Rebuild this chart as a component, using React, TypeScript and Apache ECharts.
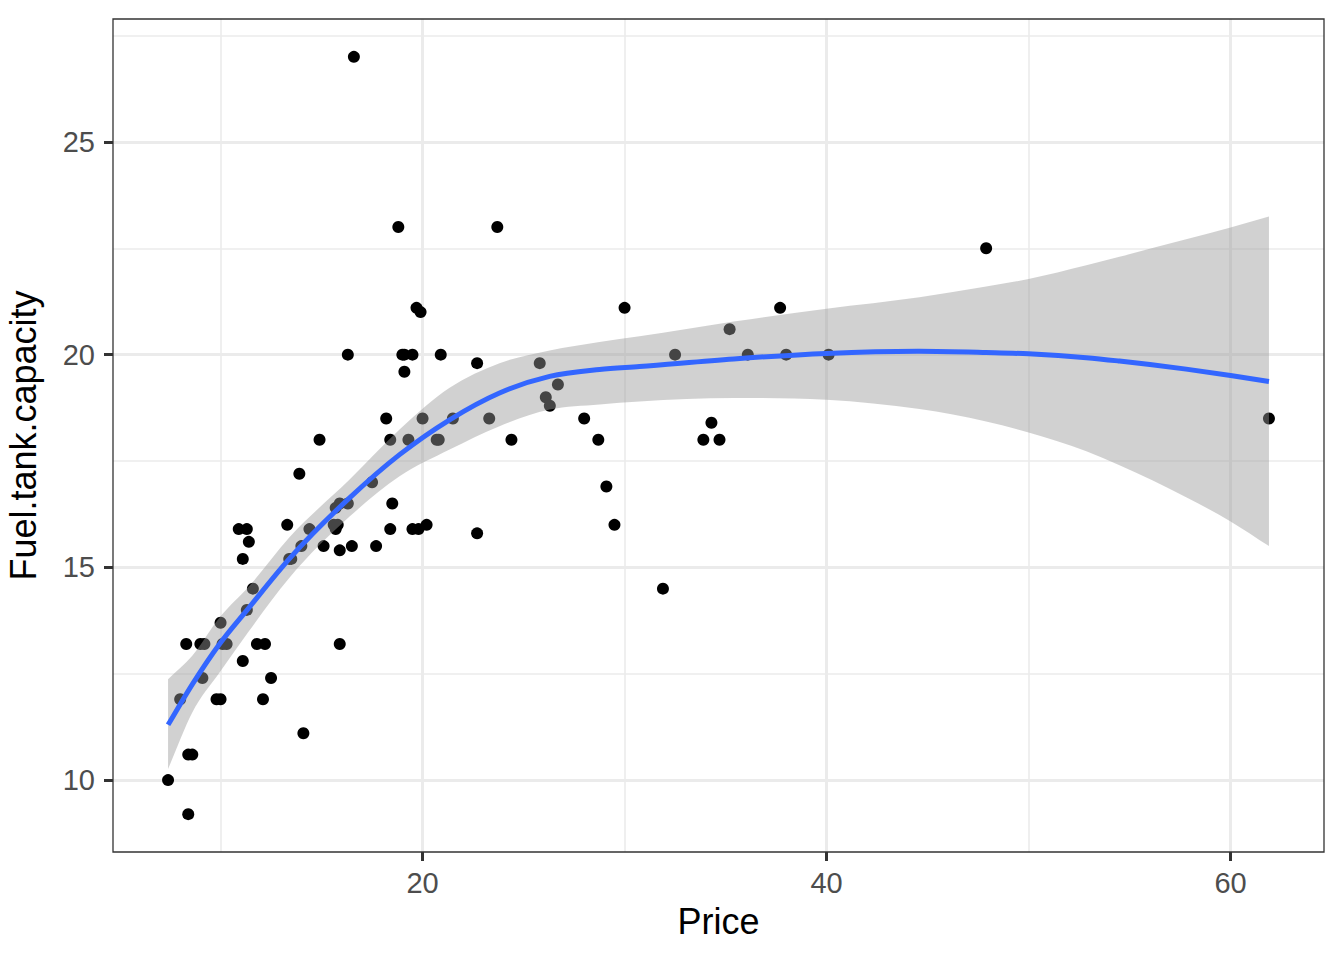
import React, { useEffect, useRef } from "react";
import * as echarts from "echarts";

// Cars93: Price vs Fuel.tank.capacity
const price = [
  15.9, 33.9, 29.1, 37.7, 30.0, 15.7, 20.8, 23.7, 26.3, 34.7, 40.1, 13.4, 11.4, 15.1, 15.9, 16.3,
  16.6, 18.8, 38.0, 18.4, 15.8, 29.5, 9.2, 11.3, 13.3, 19.0, 15.6, 25.8, 12.2, 19.3, 7.4, 10.1,
  11.3, 15.9, 14.0, 19.9, 20.2, 20.9, 8.4, 12.5, 19.8, 12.1, 17.5, 8.0, 10.0, 10.0, 13.9, 47.9,
  28.0, 35.2, 34.3, 36.1, 8.3, 11.6, 16.5, 19.1, 32.5, 31.9, 61.9, 14.1, 14.9, 10.3, 26.1, 11.8,
  15.7, 19.1, 21.5, 13.5, 16.3, 19.5, 20.7, 14.4, 9.0, 11.1, 17.7, 18.5, 24.4, 28.7, 11.1, 8.4,
  10.9, 19.5, 8.6, 9.8, 18.4, 18.2, 22.7, 9.1, 19.7, 20.0, 23.3, 22.7, 26.7,
];
const fuel = [
  13.2, 18.0, 16.9, 21.1, 21.1, 16.4, 18.0, 23.0, 18.8, 18.0, 20.0, 15.2, 15.6, 15.5, 16.5, 20.0,
  27.0, 23.0, 20.0, 18.0, 16.0, 16.0, 13.2, 14.0, 16.0, 20.0, 16.0, 19.8, 13.2, 18.0, 10.0, 13.2,
  15.9, 15.4, 15.5, 21.0, 16.0, 20.0, 10.6, 12.4, 15.9, 11.9, 17.0, 11.9, 13.7, 11.9, 17.2, 22.5,
  18.5, 20.6, 18.4, 20.0, 13.2, 14.5, 15.5, 19.6, 20.0, 14.5, 18.5, 11.1, 18.0, 13.2, 19.0, 13.2,
  15.9, 20.0, 18.5, 15.2, 16.5, 20.0, 18.0, 15.9, 13.2, 15.2, 15.5, 16.5, 18.0, 18.0, 12.8, 9.2,
  15.9, 15.9, 10.6, 11.9, 15.9, 18.5, 19.8, 12.4, 21.1, 18.5, 18.5, 15.8, 19.3,
];

// loess smooth and its confidence band
const smoothX = [7.4, 8.6, 9.95, 11.4, 13.4, 16.4, 18.86, 21.34, 23.81, 26.29, 28.76, 30.74, 35.4, 40.0, 44.6, 47.9, 50.0, 52.86, 54.5, 57.8, 60.0, 61.9];
const smoothY = [11.3, 12.25, 13.2, 14.05, 15.2, 16.64, 17.65, 18.47, 19.1, 19.49, 19.65, 19.72, 19.9, 20.03, 20.08, 20.05, 20.02, 19.93, 19.85, 19.66, 19.51, 19.37];
const bandLo = [10.26, 11.59, 12.53, 13.5, 14.75, 16.2, 17.14, 17.77, 18.32, 18.71, 18.83, 18.9, 18.98, 18.94, 18.72, 18.43, 18.17, 17.73, 17.4, 16.65, 16.08, 15.5];
const bandHi = [12.37, 12.92, 13.82, 14.55, 15.7, 17.07, 18.24, 19.22, 19.8, 20.1, 20.3, 20.43, 20.78, 21.08, 21.35, 21.6, 21.78, 22.1, 22.3, 22.71, 22.99, 23.25];

const xTicks = [20, 40, 60];
const xMinor = [10, 30, 50];
const yTicks = [10, 15, 20, 25];
const yMinor = [12.5, 17.5, 22.5, 27.5];

const xMin = 4.675;
const xMax = 64.625;
const yMin = 8.31;
const yMax = 27.89;

// smooth cubic path through pixel points (x monotone), spacing-weighted tangents
function smoothPath(pts: number[][], moveFirst: boolean): string {
  const n = pts.length;
  const h: number[] = [];
  const d: number[] = [];
  for (let i = 0; i < n - 1; i++) {
    h.push(pts[i + 1][0] - pts[i][0]);
    d.push((pts[i + 1][1] - pts[i][1]) / h[i]);
  }
  const m: number[] = [];
  for (let i = 0; i < n; i++) {
    if (i === 0) m.push(d[0]);
    else if (i === n - 1) m.push(d[n - 2]);
    else m.push((d[i - 1] * h[i] + d[i] * h[i - 1]) / (h[i - 1] + h[i]));
  }
  let out = (moveFirst ? "M" : "L") + pts[0][0] + " " + pts[0][1];
  for (let i = 0; i < n - 1; i++) {
    const dx = h[i] / 3;
    const c1x = pts[i][0] + dx;
    const c1y = pts[i][1] + m[i] * dx;
    const c2x = pts[i + 1][0] - dx;
    const c2y = pts[i + 1][1] - m[i + 1] * dx;
    out += " C" + c1x + " " + c1y + " " + c2x + " " + c2y + " " + pts[i + 1][0] + " " + pts[i + 1][1];
  }
  return out;
}

export default function App() {
  const ref = useRef<HTMLDivElement>(null);
  useEffect(() => {
    document.body.style.margin = "0";
    const chart = echarts.init(ref.current!, null, { renderer: "svg" });
    const font = "'Liberation Sans', Arial, Helvetica, sans-serif";
    const gridColor = "#EBEBEB";
    const gridLines = [
      ...xMinor.map((v) => ({ xAxis: v, lineStyle: { width: 1.6, color: gridColor, type: "solid" } })),
      ...yMinor.map((v) => ({ yAxis: v, lineStyle: { width: 1.6, color: gridColor, type: "solid" } })),
      ...xTicks.map((v) => ({ xAxis: v, lineStyle: { width: 3, color: gridColor, type: "solid" } })),
      ...yTicks.map((v) => ({ yAxis: v, lineStyle: { width: 3, color: gridColor, type: "solid" } })),
    ];
    const points = price.map((p, i) => [p, fuel[i]]);
    chart.setOption({
      animation: false,
      backgroundColor: "#ffffff",
      textStyle: { fontFamily: font },
      grid: {
        left: 113,
        right: 20,
        top: 19,
        bottom: 108,
        outerBoundsMode: "none",
        containLabel: false,
        show: true,
        z: 10,
        backgroundColor: "transparent",
        borderColor: "#333333",
        borderWidth: 1.3,
      },
      xAxis: {
        type: "value",
        min: xMin,
        max: xMax,
        name: "Price",
        nameLocation: "middle",
        nameGap: 51,
        nameTextStyle: { fontSize: 36, color: "#000000", fontFamily: font },
        axisLine: { show: false },
        splitLine: { show: false },
        axisTick: { show: true, length: 9, customValues: xTicks, lineStyle: { color: "#333333", width: 3 } },
        axisLabel: { customValues: xTicks, fontSize: 29, color: "#4D4D4D", margin: 16, fontFamily: font },
      },
      yAxis: {
        type: "value",
        min: yMin,
        max: yMax,
        name: "Fuel.tank.capacity",
        nameLocation: "middle",
        nameGap: 72,
        nameTextStyle: { fontSize: 36, color: "#000000", fontFamily: font },
        axisLine: { show: false },
        splitLine: { show: false },
        axisTick: { show: true, length: 9, customValues: yTicks, lineStyle: { color: "#333333", width: 3 } },
        axisLabel: { customValues: yTicks, fontSize: 29, color: "#4D4D4D", margin: 18, fontFamily: font },
      },
      series: [
        {
          type: "scatter",
          data: points,
          symbol: "circle",
          symbolSize: 12,
          itemStyle: { color: "#000000", opacity: 1 },
          z: 2,
          silent: true,
          markLine: {
            z: 1,
            silent: true,
            symbol: ["none", "none"],
            label: { show: false },
            emphasis: { disabled: true },
            data: gridLines,
          },
        },
        {
          type: "custom",
          z: 3,
          silent: true,
          data: smoothX.map((x, i) => [x, bandLo[i], bandHi[i]]),
          encode: { x: 0, y: [1, 2] },
          renderItem: (params: any, api: any) => {
            if (params.dataIndex !== 0) return null;
            const upper = smoothX.map((x, i) => api.coord([x, bandHi[i]]));
            const lower = smoothX.map((x, i) => api.coord([x, bandLo[i]])).reverse();
            const d = smoothPath(upper, true) + " " + smoothPath(lower, false) + " Z";
            return {
              type: "path",
              shape: { pathData: d },
              style: { fill: "rgba(153,153,153,0.45)", stroke: "none" },
            };
          },
        },
        {
          type: "custom",
          z: 4,
          silent: true,
          data: smoothX.map((x, i) => [x, smoothY[i]]),
          encode: { x: 0, y: 1 },
          renderItem: (params: any, api: any) => {
            if (params.dataIndex !== 0) return null;
            const pts = smoothX.map((x, i) => api.coord([x, smoothY[i]]));
            return {
              type: "path",
              shape: { pathData: smoothPath(pts, true) },
              style: { fill: "none", stroke: "#3366FF", lineWidth: 5, lineJoin: "round" },
            };
          },
        },
      ],
    });
    return () => chart.dispose();
  }, []);
  return <div ref={ref} style={{ width: 1344, height: 960 }} />;
}
